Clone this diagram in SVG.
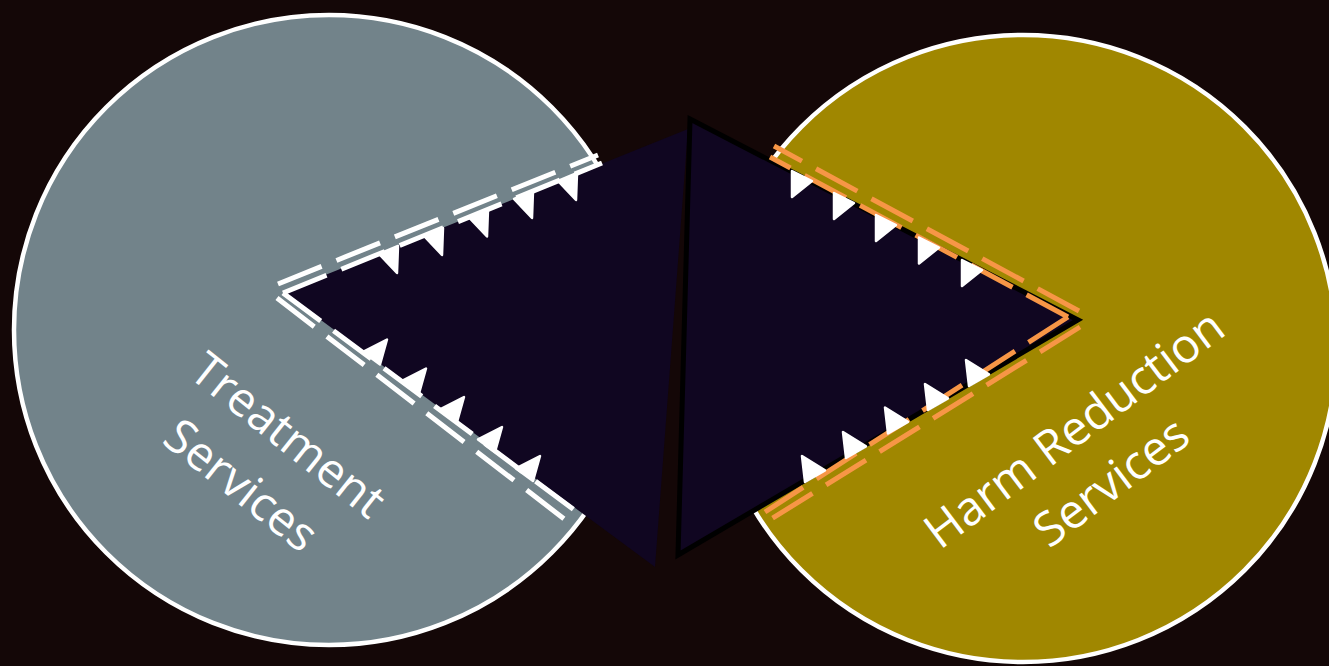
<svg xmlns="http://www.w3.org/2000/svg" width="1329" height="666" viewBox="0 0 1329 666">
<style>
.bg{fill:#140707}
.circ{stroke:#ffffff;stroke-width:4.5}
.wedge{fill:#100621}
.wdash{fill:none;stroke:#ffffff;stroke-width:5;stroke-dasharray:47 16}
.odash{fill:none;stroke:#f79646;stroke-width:5;stroke-dasharray:47 16}
.tri{fill:#ffffff;stroke:#ffffff;stroke-width:2.5;stroke-linejoin:round}
.lbl{fill:#ffffff;font-family:"Open Sans","Noto Sans","Liberation Sans",sans-serif;font-size:47.5px;text-anchor:middle}
</style>
<defs>
<polygon id="tUL" class="tri" points="0,0 -19,8 -1,27"/>
<polygon id="tLL" class="tri" points="0,0 -17,-12.6 7,-25"/>
<polygon id="tUR" class="tri" points="0,0 20,10 0,26"/>
<polygon id="tLR" class="tri" points="0,0 20,-11.6 -3,-26"/>
</defs>
<rect class="bg" x="0" y="0" width="1329" height="666"/>
<g id="treatment-circle">
<circle class="circ" cx="329" cy="330" r="315" fill="#72838a"/>
</g>
<g id="harm-reduction-circle">
<circle class="circ" cx="1023" cy="348.5" r="313.5" fill="#a08700"/>
</g>
<g id="treatment-wedge">
<polygon class="wedge" points="283,292 688,129 655,567"/>
</g>
<g id="harm-reduction-wedge">
<polygon class="wedge" points="690,119 1078,320 678,555" stroke="#000000" stroke-width="5" stroke-linejoin="miter"/>
</g>
<g id="connectors">
<path class="wdash" d="M278,284 L598,155"/>
<path class="wdash" d="M283,293 L602,163"/>
<path class="wdash" d="M283,293 L585,518"/>
<path class="wdash" d="M277,298 L572,525"/>
<path class="odash" d="M1079,311 L774,146"/>
<path class="odash" d="M1068,317 L770,157"/>
<path class="odash" d="M1068,317 L765,512"/>
<path class="odash" d="M1080,327 L768,521"/>
<use href="#tUL" x="398" y="246"/>
<use href="#tUL" x="443" y="228"/>
<use href="#tUL" x="488" y="209.5"/>
<use href="#tUL" x="533" y="191"/>
<use href="#tUL" x="577" y="173"/>
<use href="#tLL" x="380" y="364.5"/>
<use href="#tLL" x="419" y="393.5"/>
<use href="#tLL" x="457" y="422"/>
<use href="#tLL" x="495" y="452"/>
<use href="#tLL" x="533" y="481"/>
<use href="#tUR" x="792" y="171"/>
<use href="#tUR" x="834" y="193"/>
<use href="#tUR" x="876" y="215"/>
<use href="#tUR" x="919" y="237.5"/>
<use href="#tUR" x="962" y="260"/>
<use href="#tLR" x="805" y="482"/>
<use href="#tLR" x="846" y="458"/>
<use href="#tLR" x="888" y="433.5"/>
<use href="#tLR" x="928" y="410"/>
<use href="#tLR" x="969" y="386"/>
</g>
<g id="treatment-label">
<text class="lbl" transform="translate(278,448) rotate(38.5)">Treatment</text>
<text class="lbl" transform="translate(231,498) rotate(38.5)">Services</text>
</g>
<g id="harm-reduction-label">
<text class="lbl" transform="translate(1084,442) rotate(-37)">Harm Reduction</text>
<text class="lbl" transform="translate(1121,495) rotate(-37)">Services</text>
</g>
</svg>
